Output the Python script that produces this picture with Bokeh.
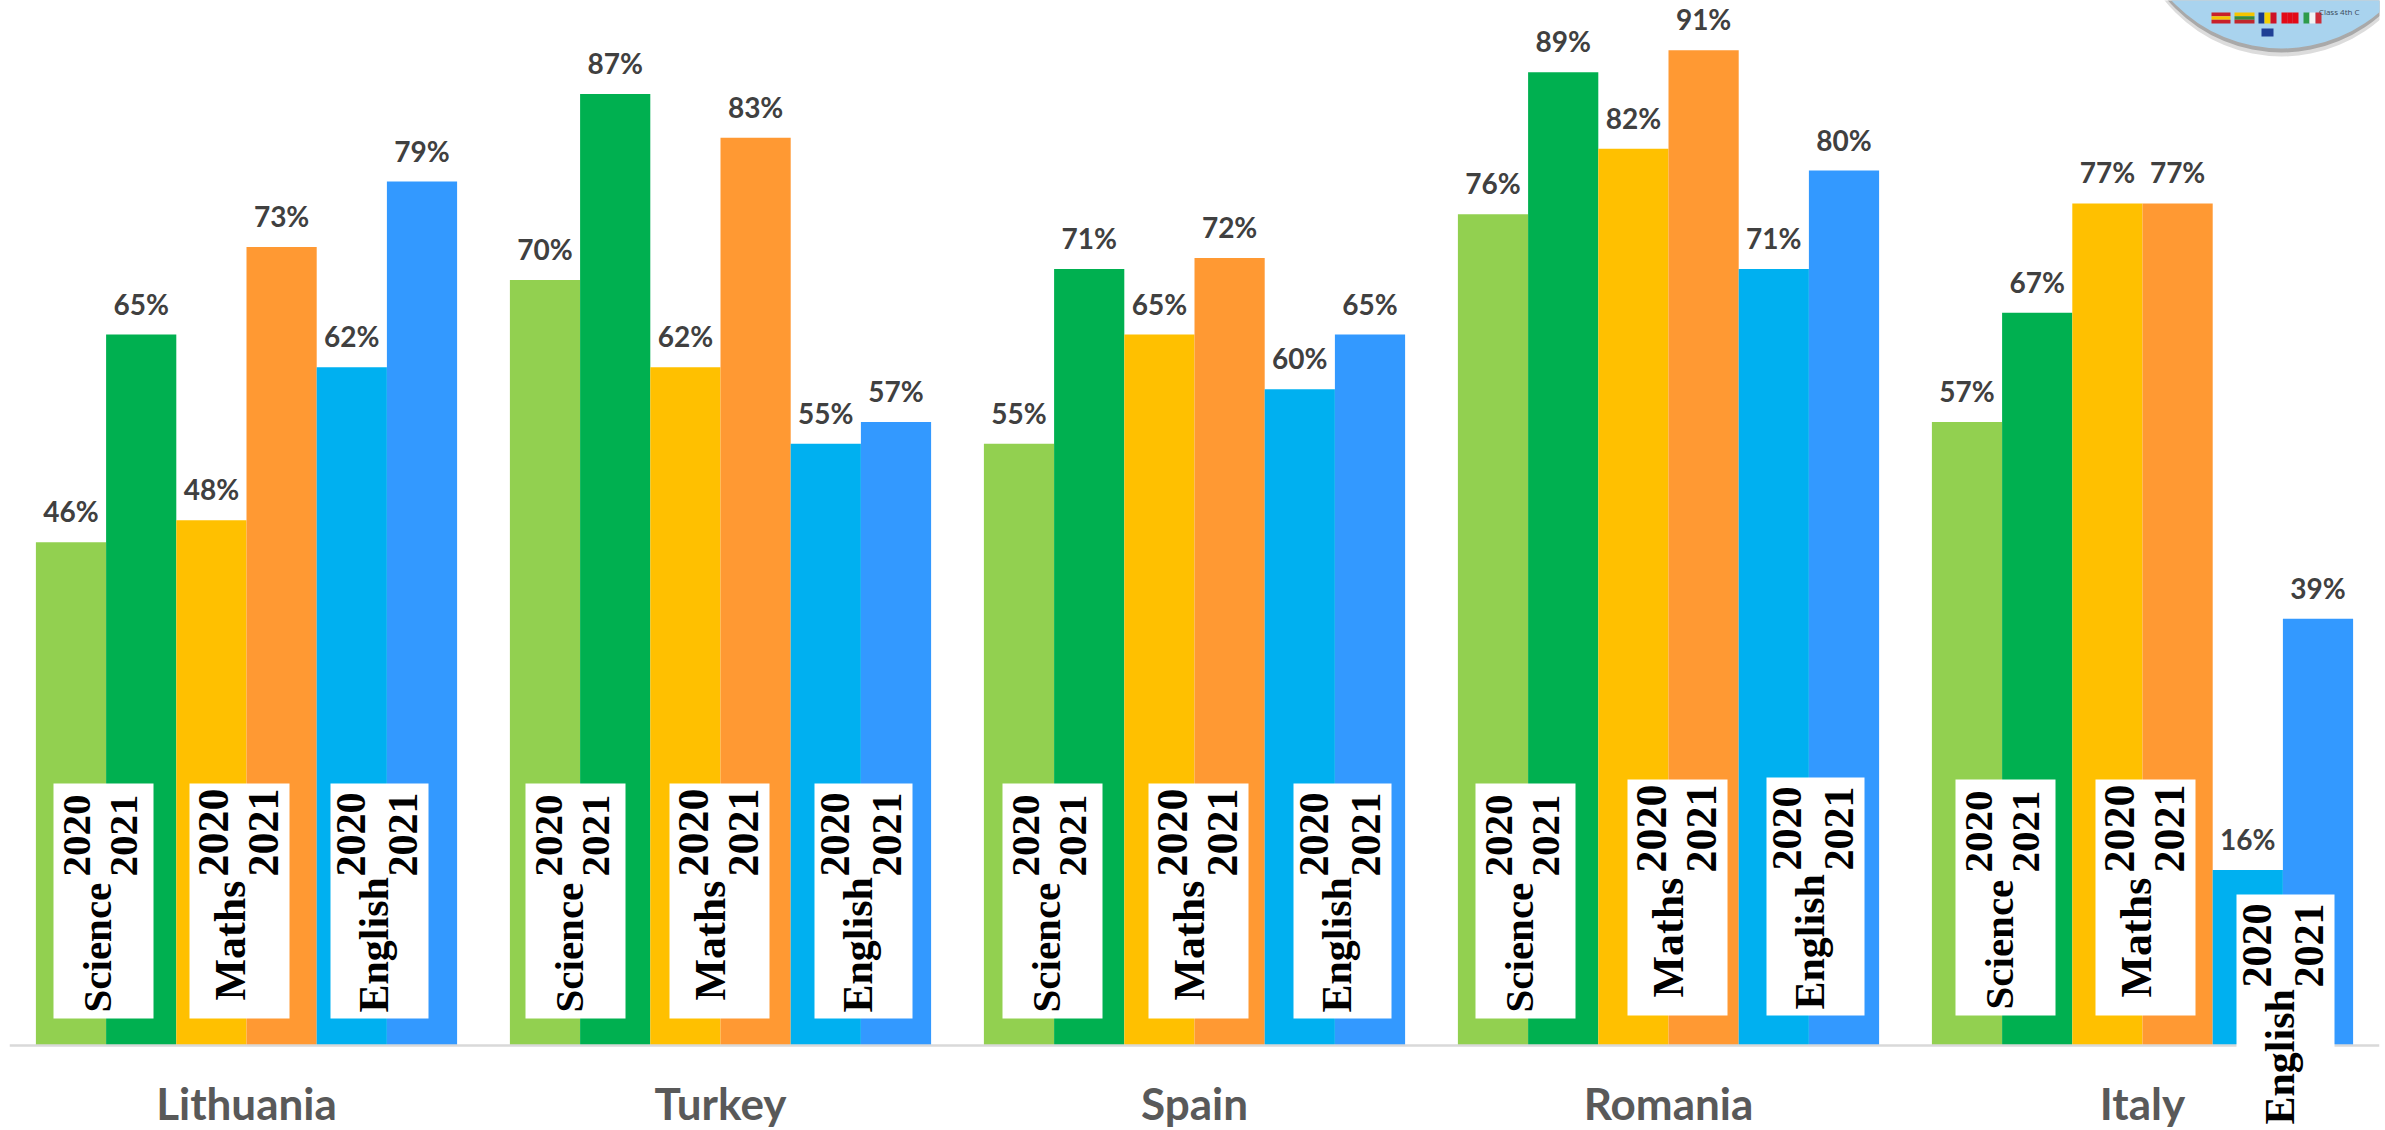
from bokeh.plotting import figure
from bokeh.models import ColumnDataSource, Range1d, FixedTicker, Label, BoxAnnotation
from bokeh.core.properties import value
from bokeh.embed import file_html
from bokeh.resources import INLINE

countries = ["Lithuania", "Turkey", "Spain", "Romania", "Italy"]
series_names = ["Science 2020", "Science 2021", "Maths 2020", "Maths 2021", "English 2020", "English 2021"]
science_2020 = [46, 70, 55, 76, 57]
science_2021 = [65, 87, 71, 89, 67]
maths_2020 = [48, 62, 65, 82, 77]
maths_2021 = [73, 83, 72, 91, 77]
english_2020 = [62, 55, 60, 71, 16]
english_2021 = [79, 57, 65, 80, 39]
series_values = [science_2020, science_2021, maths_2020, maths_2021, english_2020, english_2021]
colors = ["#92D050", "#00B050", "#FFC000", "#FF9933", "#00B0F0", "#3399FF"]

# page-pixel geometry of the plotting frame
X0, GROUP_PX, Y0, PCT_PX, H = 9.0, 474.0, 1044.5, 10.93, 1130
BAR_W = 70.2 / GROUP_PX


def px(x):
    return (x - X0) / GROUP_PX


def py(y):
    return (Y0 - y) / PCT_PX


p = figure(width=2385, height=H, output_backend="svg", toolbar_location=None,
           x_range=Range1d(0, 5), y_range=Range1d(py(H), py(0)),
           min_border_left=9, min_border_right=6, min_border_top=0, min_border_bottom=0,
           y_axis_location=None, outline_line_color=None, background_fill_color="white")
p.grid.visible = False

ax = p.xaxis[0]
ax.fixed_location = 0
ax.ticker = FixedTicker(ticks=[i + 0.5 for i in range(len(countries))])
ax.major_label_overrides = {i + 0.5: c for i, c in enumerate(countries)}
ax.major_tick_line_color = None
ax.minor_tick_line_color = None
ax.axis_line_color = "#D9D9D9"
ax.axis_line_width = 2.5
ax.major_label_text_font = "Lato"
ax.major_label_text_font_style = "bold"
ax.major_label_text_font_size = "44px"
ax.major_label_text_color = "#595959"
ax.major_label_standoff = 26

for j, (name, vals, col) in enumerate(zip(series_names, series_values, colors)):
    xs = [i + 0.5 + (j - 2.5) * BAR_W for i in range(len(vals))]
    src = ColumnDataSource(dict(x=xs, top=vals, label=[f"{v}%" for v in vals]))
    p.vbar(x="x", top="top", bottom=0, width=BAR_W, source=src, fill_color=col, line_color=None, name=name)
    p.text(x="x", y="top", text="label", source=src, text_align="center", text_baseline="bottom",
           y_offset=-14, text_font=value("Lato"), text_font_style="bold", text_font_size="28px",
           text_color="#404040")

# White label boxes with rotated text: box width, x offsets of 2020 / subject / 2021, font size
SUBJECTS = {"Science": (100, 23, 43, 70, 41, -6),
            "Maths": (100, 24, 41, 74, 44, -18),
            "English": (98, 20, 43, 72, 42, -6)}
boxes = [
    ("Science", 53, 783, 1018), ("Maths", 189, 783, 1018), ("English", 330, 783, 1018),
    ("Science", 525, 783, 1018), ("Maths", 669, 783, 1018), ("English", 814, 783, 1018),
    ("Science", 1002, 783, 1018), ("Maths", 1148, 783, 1018), ("English", 1293, 783, 1018),
    ("Science", 1475, 783, 1018), ("Maths", 1627, 779, 1015), ("English", 1766, 777, 1015),
    ("Science", 1955, 779, 1015), ("Maths", 2095, 779, 1015), ("English", 2236, 894, 1130),
]
for subj, left, top, bottom in boxes:
    w, d0, dm, d1, fs, dy = SUBJECTS[subj]
    p.add_layout(BoxAnnotation(left=px(left), right=px(left + w), top=py(top), bottom=py(bottom),
                               fill_color="white", fill_alpha=1, line_color=None, level="annotation"))
    yr = top + 93
    for txt, dx, yb in ((subj, dm, bottom + dy), ("2020", d0, yr), ("2021", d1, yr)):
        p.add_layout(Label(x=px(left + dx), y=py(yb), text=txt, angle=90, angle_units="deg",
                           text_font="Liberation Serif", text_font_style="bold",
                           text_font_size=f"{fs}px", text_color="black",
                           text_align="left", text_baseline="middle"))

# Logo in the upper-right corner
logo_x = px(2281)
p.scatter([logo_x], [py(-94)], size=300, marker="circle", fill_color="#9A9A9A", fill_alpha=0.35, line_color=None)
p.scatter([logo_x], [py(-98)], size=300, marker="circle", fill_color="#7F7F7F", fill_alpha=0.55, line_color=None)
p.scatter([logo_x], [py(-102)], size=300, marker="circle", fill_color="#A9D3EE", line_color=None)

flag_left = [2211, 2234, 2258, 2281, 2303]
flag_w = [19, 20, 18, 17, 18]
flag_stripes = [
    ("h", ["#C8202A", "#F5C400", "#C8202A"]),
    ("h", ["#F5C400", "#3A8A3A", "#C1272D"]),
    ("v", ["#1A3A8C", "#F5D000", "#CE1126"]),
    ("v", ["#E30A17", "#E30A17", "#E30A17"]),
    ("v", ["#2E9B4A", "#F4F4F4", "#CE2B37"]),
]
fy0, fy1 = 12.0, 23.0
for l, w, (kind, cols) in zip(flag_left, flag_w, flag_stripes):
    for k, c in enumerate(cols):
        if kind == "v":
            q = (l + w * k / 3, l + w * (k + 1) / 3, fy0, fy1)
        else:
            q = (l, l + w, fy0 + (fy1 - fy0) * k / 3, fy0 + (fy1 - fy0) * (k + 1) / 3)
        p.quad(left=[px(q[0])], right=[px(q[1])], top=[py(q[2])], bottom=[py(q[3])], fill_color=c, line_color=None)
p.quad(left=[px(2261)], right=[px(2273)], top=[py(28)], bottom=[py(36)], fill_color="#1F3F95", line_color=None)
p.text(x=[px(2359)], y=[py(11)], text=["Class 4th C"], text_align="right", text_baseline="middle",
       text_font=value("Open Sans"), text_font_size="8px", text_color="#3A4A5A")

open("out.html", "w").write(file_html(p, INLINE))
